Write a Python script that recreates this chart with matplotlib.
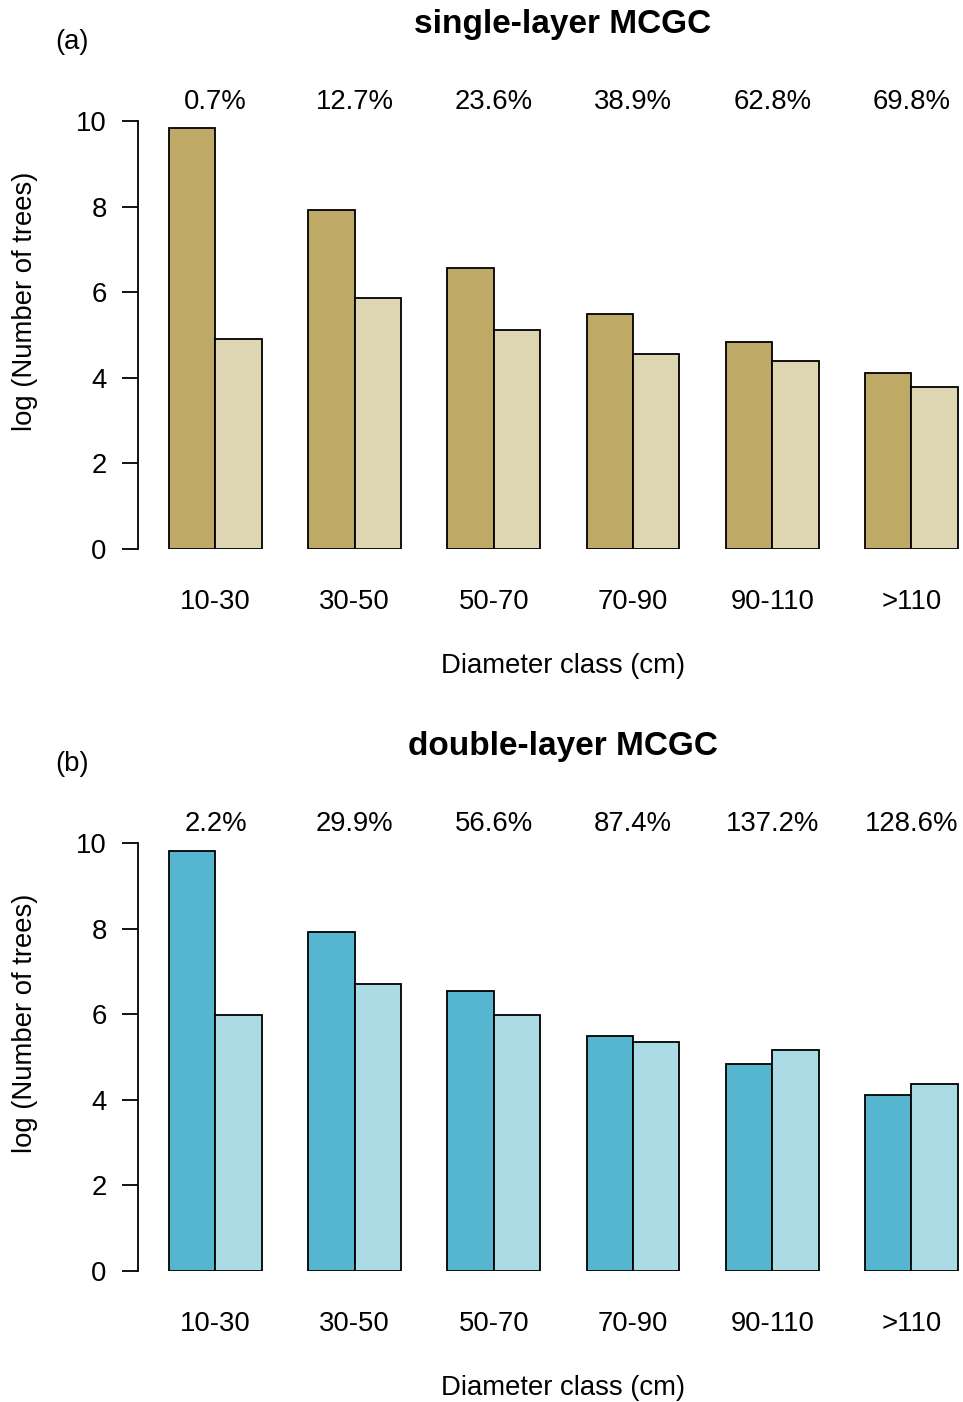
import numpy as np
import matplotlib.pyplot as plt

plt.rcParams['font.family'] = ['Liberation Sans', 'DejaVu Sans']

# data
classes = ['10-30', '30-50', '50-70', '70-90', '90-110', '>110']
single_dark = [9.84, 7.92, 6.57, 5.49, 4.84, 4.11]
single_light = [4.91, 5.86, 5.12, 4.56, 4.39, 3.79]
single_pct = ['0.7%', '12.7%', '23.6%', '38.9%', '62.8%', '69.8%']
double_dark = [9.81, 7.92, 6.54, 5.49, 4.84, 4.11]
double_light = [5.98, 6.71, 5.98, 5.35, 5.16, 4.37]
double_pct = ['2.2%', '29.9%', '56.6%', '87.4%', '137.2%', '128.6%']

W, H = 963, 1402
fs = 19.8
fig = plt.figure(figsize=(W / 100, H / 100), dpi=100)

def panel(y0_px, dark, light, pct, c_dark, c_light, title, tag):
    # y0_px: pixel row of y=0 ; y=10 sits 428 px above
    ax = fig.add_axes([138 / W, (H - y0_px) / H, (W - 138) / W, 428 / H])
    x = np.arange(len(classes)) * 3 + 1  # R-style bar positions (space=c(0,1))
    ax.bar(x + 0.5, dark, width=1, color=c_dark, edgecolor='black', linewidth=1.3)
    ax.bar(x + 1.5, light, width=1, color=c_light, edgecolor='black', linewidth=1.3)
    ax.set_xlim(0.33, 18.11)
    ax.set_ylim(0, 10)
    for s in ['top', 'right', 'bottom']:
        ax.spines[s].set_visible(False)
    ax.spines['left'].set_linewidth(1.3)
    ax.set_xticks([])
    ax.set_yticks([0, 2, 4, 6, 8, 10])
    ax.tick_params(axis='y', length=11.5, width=1.3, pad=11, labelsize=fs)
    for i in range(len(classes)):
        ax.text(x[i] + 1, 10.45, pct[i], ha='center', va='center', fontsize=fs, clip_on=False)
        ax.text(x[i] + 1, -1.23, classes[i], ha='center', va='center', fontsize=fs, clip_on=False)
    fig.text(563 / W, 1 - (y0_px + 117) / H, 'Diameter class (cm)', ha='center', va='center', fontsize=fs)
    fig.text(25 / W, 1 - (y0_px - 248) / H, 'log (Number of trees)', rotation=90,
             ha='center', va='center', fontsize=fs)
    fig.text(563 / W, 1 - (y0_px - 525) / H, title, ha='center', va='center',
             fontsize=24, fontweight='bold')
    fig.text(72 / W, 1 - (y0_px - 507) / H, tag, ha='center', va='center', fontsize=fs)
    return ax

panel(549, single_dark, single_light, single_pct, '#BEAA66', '#DED6B3', 'single-layer MCGC', '(a)')
panel(1271, double_dark, double_light, double_pct, '#56B6D0', '#ABDCE6', 'double-layer MCGC', '(b)')

plt.savefig('out.png', dpi=100)
